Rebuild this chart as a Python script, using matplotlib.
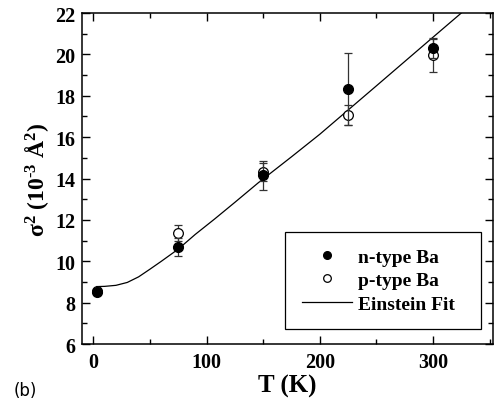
import matplotlib
matplotlib.use("Agg")
import matplotlib.pyplot as plt
from matplotlib.ticker import MultipleLocator
from matplotlib.lines import Line2D

plt.rcParams['font.family'] = ['Liberation Serif', 'DejaVu Serif']
plt.rcParams['font.weight'] = 'bold'
plt.rcParams['mathtext.fontset'] = 'custom'
plt.rcParams['mathtext.rm'] = 'Liberation Serif:bold'
plt.rcParams['mathtext.bf'] = 'Liberation Serif:bold'
plt.rcParams['mathtext.it'] = 'Liberation Serif:bold'

# Data
T_pts = [3, 75, 150, 225, 300]
n_vals = [8.51, 10.70, 14.16, 18.32, 20.31]
n_err = [0.15, 0.42, 0.70, 1.75, 0.47]
p_vals = [8.56, 11.38, 14.32, 17.08, 19.96]
p_err = [0.12, 0.38, 0.42, 0.47, 0.80]

fit_T = [3, 10, 20, 30, 40, 50, 60, 75, 90, 107, 125, 146, 175, 200, 250, 300, 325]
fit_vals = [8.78, 8.79, 8.84, 8.98, 9.25, 9.62, 10.0, 10.59, 11.30, 12.04, 12.85,
            13.81, 15.05, 16.14, 18.48, 20.83, 22.0]

xticks = [0, 100, 200, 300]
yticks = [6, 8, 10, 12, 14, 16, 18, 20, 22]

fig = plt.figure(figsize=(4.94, 4.06), dpi=100)
ax = fig.add_axes([0.166, 0.150, 0.832, 0.8155])

ax.plot(fit_T, fit_vals, color='black', lw=0.9, label='Einstein Fit', zorder=2)
ax.errorbar(T_pts, p_vals, yerr=p_err, fmt='o', mfc='white', mec='black', mew=0.9,
            ms=7, ecolor='#333333', elinewidth=0.9, capsize=3, capthick=0.9,
            label='p-type Ba', zorder=3)
ax.errorbar(T_pts, n_vals, yerr=n_err, fmt='o', mfc='black', mec='black',
            ms=7, ecolor='#333333', elinewidth=0.9, capsize=3, capthick=0.9,
            label='n-type Ba', zorder=4)

ax.set_xlim(-10, 353)
ax.set_ylim(6, 22)
ax.set_xticks(xticks)
ax.set_yticks(yticks)
ax.xaxis.set_minor_locator(MultipleLocator(50))
ax.yaxis.set_minor_locator(MultipleLocator(1))
ax.tick_params(which='both', direction='in', top=True, right=True, labelsize=14.5, width=1)
ax.tick_params(which='major', length=6)
ax.tick_params(which='minor', length=3.5)
ax.tick_params(axis='x', which='major', pad=6)
ax.tick_params(axis='y', which='major', pad=5)
for s in ax.spines.values():
    s.set_linewidth(1.1)
for lab in ax.get_xticklabels() + ax.get_yticklabels():
    lab.set_fontweight('bold')

ax.set_xlabel('T (K)', fontsize=18, fontweight='bold', labelpad=1)
ax.set_ylabel(r'σ$^{2}$ (10$^{\text{-3}}$ Å$^{2}$)', fontsize=17, fontweight='bold', labelpad=3)

handles = [Line2D([], [], marker='o', ls='none', mfc='black', mec='black', ms=5.5),
           Line2D([], [], marker='o', ls='none', mfc='white', mec='black', mew=0.9, ms=5.5),
           Line2D([], [], color='black', lw=0.9)]
labels = ['n-type Ba', 'p-type Ba', 'Einstein Fit']
leg = ax.legend(handles, labels, loc='lower left', bbox_to_anchor=(0.494, 0.045, 0.476, 0.289),
                mode='expand', borderaxespad=0, fancybox=False, edgecolor='black', framealpha=1,
                prop={'family': 'Liberation Serif', 'weight': 'bold', 'size': 14},
                handlelength=2.6, handletextpad=0.3, labelspacing=0.3, borderpad=0.85)
leg.get_frame().set_linewidth(0.9)

fig.text(0.028, 0.025, '(b)', fontsize=12, family='DejaVu Sans', fontweight='normal')

fig.savefig('out.png', dpi=100)
